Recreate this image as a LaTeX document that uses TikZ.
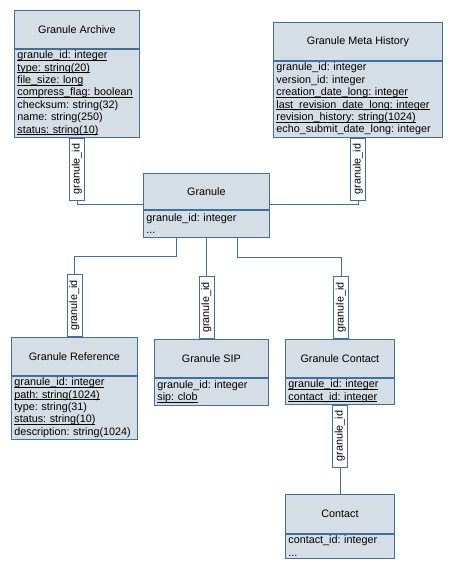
\documentclass[tikz,border=0pt]{standalone}
\usepackage{fontspec}
\setmainfont{Liberation Sans}
\usepackage{tikz}
\definecolor{umlblue}{RGB}{64,112,160}
\definecolor{umlfill}{RGB}{213,221,229}
\newsavebox\ulbox
\newcommand\uln[1]{\leavevmode\sbox\ulbox{#1}\rlap{\vrule width\wd\ulbox height -1.1pt depth 1.7pt}\usebox\ulbox}
\tikzset{
	ehead/.style={draw=umlblue, fill=umlfill, line width=0.8pt, anchor=north west, inner sep=0pt, minimum height=38pt},
	ebody/.style={draw=umlblue, fill=umlfill, line width=0.8pt, anchor=north west, align=left, inner xsep=3pt, inner ysep=0pt},
	rolebox/.style={draw=umlblue, fill=white, line width=0.8pt, rotate=90, inner sep=0pt, minimum width=62pt, minimum height=15pt},
	link/.style={draw=umlblue, line width=0.8pt}
}
\frenchspacing
\begin{document}
\begin{tikzpicture}[x=1pt, y=-1pt, font=\fontsize{10.8}{12.4}\selectfont\frenchspacing]
		\useasboundingbox (0,0) rectangle (451,567);
		%Granule Archive
		\node [ehead, minimum width=125pt] (arch) at (14,10) {Granule Archive};
		\node [ebody, text width=119pt, minimum height=88pt] (archb) at (arch.south west) {\uln{granule\_id: integer}\\\uln{type: string(20)}\\\uln{file\_size: long}\\\uln{compress\_flag: boolean}\\checksum: string(32)\\name: string(250)\\\uln{status: string(10)}};
		%Granule Meta History
		\node [ehead, minimum width=169pt] (hist) at (273,22) {Granule Meta History};
		\node [ebody, text width=163pt, minimum height=76pt] (histb) at (hist.south west) {granule\_id: integer\\version\_id: integer\\\uln{creation\_date\_long: integer}\\\uln{last\_revision\_date\_long: integer}\\\uln{revision\_history: string(1024)}\\echo\_submit\_date\_long: integer};
		%Granule
		\node [ehead, minimum width=126pt, minimum height=36pt] (gran) at (143,173) {Granule};
		\node [ebody, text width=120pt, minimum height=27pt] (granb) at (gran.south west) {granule\_id: integer\\...};
		%Granule Reference
		\node [ehead, minimum width=126pt] (ref) at (11,337) {Granule Reference};
		\node [ebody, text width=120pt, minimum height=63pt] (refb) at (ref.south west) {\uln{granule\_id: integer}\\\uln{path: string(1024)}\\type: string(31)\\\uln{status: string(10)}\\description: string(1024)};
		%Granule SIP
		\node [ehead, minimum width=114pt] (sip) at (154,339) {Granule SIP};
		\node [ebody, text width=108pt, minimum height=27pt] (sipb) at (sip.south west) {granule\_id: integer\\\uln{sip: clob}};
		%Granule Contact
		\node [ehead, minimum width=109pt] (ctx) at (285,339) {Granule Contact};
		\node [ebody, text width=103pt, minimum height=26pt] (ctxb) at (ctx.south west) {\uln{granule\_id: integer}\\\uln{contact\_id: integer}};
		%Contact
		\node [ehead, minimum width=109pt, minimum height=39pt] (cont) at (285,494) {Contact};
		\node [ebody, text width=103pt, minimum height=24pt] (contb) at (cont.south west) {contact\_id: integer\\...};
		%Rollen
		\node [rolebox, anchor=east] (larch) at (archb.south) {granule\_id};
		\node [rolebox, anchor=east] (lhist) at (histb.south) {granule\_id};
		\node [rolebox, anchor=west] (lref) at (ref.north) {granule\_id};
		\node [rolebox, anchor=west] (lsip) at ([xshift=-5pt]sip.north) {granule\_id};
		\node [rolebox, anchor=west] (lctx) at ([xshift=1pt]ctx.north) {granule\_id};
		\node [rolebox, anchor=east] (lcont) at (ctxb.south) {granule\_id};
		%Verbindungen
		\draw [link] (larch.west) |- ([yshift=5pt]gran.south west);
		\draw [link] (lhist.west) |- ([yshift=5pt]gran.south east);
		\draw [link] ([xshift=33pt]granb.south west) -- ++(0,19) -| (lref.east);
		\draw [link] (lsip.east |- granb.south) -- (lsip.east);
		\draw [link] ([xshift=94pt]granb.south west) -- ++(0,20) -| (lctx.east);
		\draw [link] (lcont.west) -- (cont.north);
\end{tikzpicture}
\end{document}
